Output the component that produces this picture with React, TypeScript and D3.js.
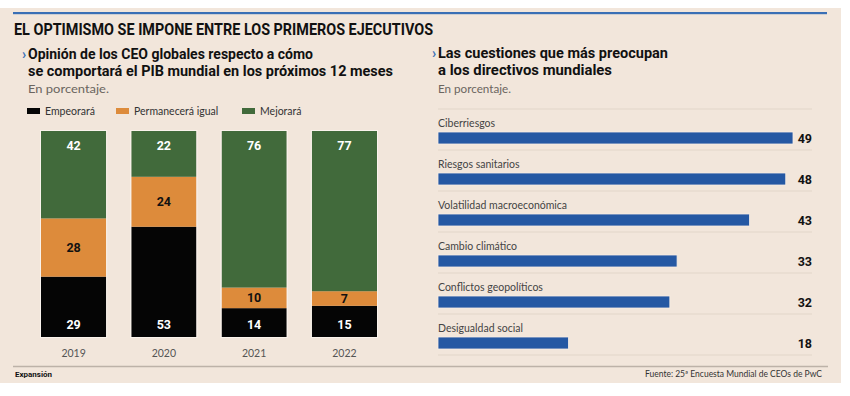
import React from "react";
import * as d3 from "d3";

const years = ["2019", "2020", "2021", "2022"];
const empeorara = [29, 53, 14, 15];
const permanecera = [28, 24, 10, 7];
const mejorara = [42, 22, 76, 77];
const legendLabels = ["Empeorará", "Permanecerá igual", "Mejorará"];

const issues = [
  "Ciberriesgos",
  "Riesgos sanitarios",
  "Volatilidad macroeconómica",
  "Cambio climático",
  "Conflictos geopolíticos",
  "Desigualdad social",
];
const issueValues = [49, 48, 43, 33, 32, 18];

const BG = "#f2e6db";
const GREEN = "#416a3b";
const ORANGE = "#dd8b3b";
const BLACK = "#050505";
const BLUE = "#2558a3";
const SEP = "#e2d6ca";
const COND = "'Roboto', 'Liberation Sans', sans-serif";
const BODY = "'Lato', 'Open Sans', sans-serif";

export default function App() {
  const W = 850, H = 396;
  const x = d3.scaleBand<string>().domain(years).range([41, 377]).paddingInner(25 / 90).paddingOuter(0);
  const barTop = 131, barBottom = 337;

  const series = [
    { key: "emp", vals: empeorara, color: BLACK, text: "#fff" },
    { key: "perm", vals: permanecera, color: ORANGE, text: "#111" },
    { key: "mej", vals: mejorara, color: GREEN, text: "#fff" },
  ];

  const yRight = d3.scaleBand<string>().domain(issues).range([109, 355]).paddingInner(0).paddingOuter(0);
  const xRight = d3.scaleLinear().domain([0, 49]).range([438, 793]);
  const legendColors = [BLACK, ORANGE, GREEN];
  const legendX = [27, 116, 242];

  return (
    <svg width={W} height={H} viewBox={`0 0 ${W} ${H}`} style={{ display: "block", position: "absolute", left: 0, top: 0 }}>
      <rect x={0} y={0} width={W} height={H} fill="#ffffff" />
      <rect x={0} y={8} width={841} height={375} fill={BG} />
      <rect x={13} y={12} width={814} height={2.2} fill="#3a6fb5" />
      <text x={14} y={35} fontFamily={COND} fontWeight={700} fontSize={16} textLength={419} lengthAdjust="spacingAndGlyphs" fill="#111">
        EL OPTIMISMO SE IMPONE ENTRE LOS PRIMEROS EJECUTIVOS
      </text>

      {/* Left subtitle */}
      <text x={22} y={59} fontFamily={COND} fontWeight={700} fontSize={14} fill="#3a6fb5">›</text>
      <text x={28} y={59} fontFamily={COND} fontWeight={700} fontSize={14.5} textLength={285} lengthAdjust="spacingAndGlyphs" fill="#111">
        Opinión de los CEO globales respecto a cómo
      </text>
      <text x={28} y={76} fontFamily={COND} fontWeight={700} fontSize={14.5} textLength={365} lengthAdjust="spacingAndGlyphs" fill="#111">
        se comportará el PIB mundial en los próximos 12 meses
      </text>
      <text x={28} y={93} fontFamily={BODY} fontSize={10.5} textLength={81} lengthAdjust="spacingAndGlyphs" fill="#6b6560">En porcentaje.</text>

      {/* Legend */}
      {legendLabels.map((l, i) => (
        <g key={l}>
          <rect x={legendX[i]} y={108} width={13} height={6} fill={legendColors[i]} />
          <text x={legendX[i] + 18} y={115} fontFamily={BODY} fontSize={10.5} fill="#333">{l}</text>
        </g>
      ))}

      {/* Stacked bars */}
      {years.map((yr, i) => {
        const total = empeorara[i] + permanecera[i] + mejorara[i];
        const y = d3.scaleLinear().domain([0, total]).range([barBottom, barTop]);
        let acc = 0;
        const bx = x(yr)!;
        const bw = x.bandwidth();
        return (
          <g key={yr}>
            {series.map((s, si) => {
              const v = s.vals[i];
              const y0 = y(acc), y1 = y(acc + v);
              acc += v;
              let ty: number;
              if (si === 0) ty = barBottom - 8;
              else if (si === 2) ty = barTop + 19;
              else ty = (y0 + y1) / 2 + 4.5;
              return (
                <g key={s.key}>
                  <rect x={bx} y={y1} width={bw} height={y0 - y1} fill={s.color} />
                  <text x={bx + bw / 2} y={ty} textAnchor="middle" fontFamily={COND} fontWeight={700} fontSize={12.5} fill={s.text}>{v}</text>
                </g>
              );
            })}
            <rect x={bx - 0.5} y={barTop - 0.5} width={bw + 1} height={barBottom - barTop + 1} fill="none" stroke="#faf3ec" strokeWidth={1} />
            <text x={bx + bw / 2} y={357} textAnchor="middle" fontFamily={BODY} fontSize={10.5} fill="#555">{yr}</text>
          </g>
        );
      })}

      {/* Right subtitle */}
      <text x={432} y={58} fontFamily={COND} fontWeight={700} fontSize={14} fill="#3a6fb5">›</text>
      <text x={438} y={58} fontFamily={COND} fontWeight={700} fontSize={14.5} textLength={230} lengthAdjust="spacingAndGlyphs" fill="#111">
        Las cuestiones que más preocupan
      </text>
      <text x={438} y={75} fontFamily={COND} fontWeight={700} fontSize={14.5} textLength={174} lengthAdjust="spacingAndGlyphs" fill="#111">
        a los directivos mundiales
      </text>
      <text x={438} y={93} fontFamily={BODY} fontSize={10.5} textLength={73} lengthAdjust="spacingAndGlyphs" fill="#6b6560">En porcentaje.</text>

      {/* Horizontal bars */}
      <line x1={438} x2={812} y1={109} y2={109} stroke={SEP} strokeWidth={1.2} />
      {issues.map((c, i) => {
        const top = yRight(c)!;
        const h = yRight.bandwidth();
        const by = top + 23;
        return (
          <g key={c}>
            <text x={438} y={top + 18} fontFamily={BODY} fontSize={10.5} fill="#444">{c}</text>
            <rect x={xRight(0)} y={by} width={xRight(issueValues[i]) - xRight(0)} height={12} fill={BLUE} stroke="#f7eee6" strokeWidth={0.8} />
            <text x={812} y={by + 10.5} textAnchor="end" fontFamily={COND} fontWeight={700} fontSize={12.5} fill="#111">{issueValues[i]}</text>
            <line x1={438} x2={812} y1={top + h} y2={top + h} stroke={SEP} strokeWidth={1.2} />
          </g>
        );
      })}

      {/* Footer */}
      <line x1={13} x2={828} y1={366.5} y2={366.5} stroke="#bdb2a8" strokeWidth={1.5} />
      <text x={15} y={377} fontFamily={COND} fontWeight={700} fontSize={8} textLength={37} lengthAdjust="spacingAndGlyphs" fill="#111">Expansión</text>
      <text x={822} y={377} textAnchor="end" fontFamily={BODY} fontSize={8.5} textLength={177} lengthAdjust="spacingAndGlyphs" fill="#333">Fuente: 25ª Encuesta Mundial de CEOs de PwC</text>
    </svg>
  );
}
